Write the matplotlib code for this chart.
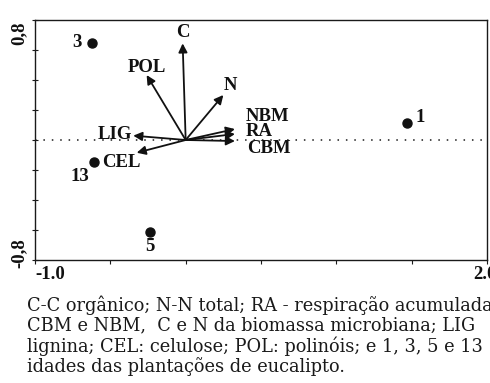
import matplotlib
matplotlib.use("Agg")
import matplotlib.pyplot as plt

# Sites (plantation ages) scores
site_labels = ["1", "3", "5", "13"]
site_x = [1.467, -0.622, -0.239, -0.611]
site_y = [0.111, 0.649, -0.611, -0.149]

# Variable vectors (arrow tips)
var_labels = ["C", "POL", "N", "LIG", "CEL", "NBM", "RA", "CBM"]
var_x = [-0.02, -0.259, 0.25, -0.348, -0.325, 0.327, 0.327, 0.327]
var_y = [0.644, 0.433, 0.30, 0.029, -0.085, 0.073, 0.040, -0.007]

xlim = (-1.0, 2.0)
ylim = (-0.8, 0.8)
x_ticks = [-1.0, -0.5, 0.0, 0.5, 1.0, 1.5, 2.0]
y_ticks = [-0.8, -0.6, -0.4, -0.2, 0.0, 0.2, 0.4, 0.6, 0.8]

caption_lines = [
    "C-C orgânico; N-N total; RA - respiração acumulada",
    "CBM e NBM,  C e N da biomassa microbiana; LIG",
    "lignina; CEL: celulose; POL: polinóis; e 1, 3, 5 e 13",
    "idades das plantações de eucalipto.",
]

# label layout (pixel offsets from mark)
site_off = {"1": (13, 6, "center"), "3": (-15, 0, "center"),
            "5": (0, -15, "center"), "13": (-14, -14, "center")}
var_off = {"C": (0, 11, "center"), "POL": (0, 8, "center"), "N": (7, 10, "center"),
           "LIG": (-1, 1, "right"), "CEL": (4, -10, "right"),
           "NBM": (11, 13, "left"), "RA": (11, 2, "left"), "CBM": (12, -7, "left")}

W, H = 490, 383
fig = plt.figure(figsize=(W / 100, H / 100), dpi=100)
ax = fig.add_axes([35 / W, 1 - 260 / H, 452 / W, 240 / H])
ax.set_xlim(*xlim)
ax.set_ylim(*ylim)
ax.set_xticks(x_ticks)
ax.set_yticks(y_ticks)
ax.set_xticklabels([])
ax.set_yticklabels([])
ax.tick_params(axis="x", direction="out", length=3, width=0.8, colors="#1a1a1a")
ax.tick_params(axis="y", direction="inout", length=5, width=0.8, colors="#1a1a1a")
for s in ax.spines.values():
    s.set_linewidth(1.0)
    s.set_color("#1a1a1a")

ax.axhline(0, color="#1a1a1a", lw=1.1, ls=(0, (1, 4.5)), zorder=1)

bold = dict(family="Liberation Serif", weight="bold", color="#111111")
FS = 13.5

for lab, x, y in zip(var_labels, var_x, var_y):
    ax.annotate("", xy=(x, y), xytext=(0, 0),
                arrowprops=dict(arrowstyle="-|>", mutation_scale=13, lw=1.3,
                                color="#111111", shrinkA=0, shrinkB=0))
    dx, dy, ha = var_off[lab]
    ax.annotate(lab, xy=(x, y), xytext=(dx, dy), textcoords="offset pixels",
                ha=ha, va="center", fontsize=FS, **bold)

ax.plot(site_x, site_y, "o", color="#111111", ms=6.5, zorder=3)
for lab, x, y in zip(site_labels, site_x, site_y):
    dx, dy, ha = site_off[lab]
    ax.annotate(lab, xy=(x, y), xytext=(dx, dy), textcoords="offset pixels",
                ha=ha, va="center", fontsize=FS, **bold)

# axis end labels
ax.text(xlim[0], -0.025, "-1.0", transform=ax.get_xaxis_transform(),
        ha="left", va="top", fontsize=FS, **bold)
ax.text(xlim[1] - 0.015, -0.025, "2.0", transform=ax.get_xaxis_transform(),
        ha="center", va="top", fontsize=FS, **bold)
ax.text(-0.035, ylim[1] - 0.01, "0,8", transform=ax.get_yaxis_transform(),
        ha="center", va="top", rotation=90, fontsize=FS, **bold)
ax.text(-0.035, ylim[0] - 0.05, "-0,8", transform=ax.get_yaxis_transform(),
        ha="center", va="bottom", rotation=90, fontsize=FS, **bold)

# caption
for i, line in enumerate(caption_lines):
    fig.text(27 / W, 1 - (305 + 20.5 * i) / H, line, ha="left", va="center",
             fontsize=12.8, family="DejaVu Serif", color="#1a1a1a")

fig.savefig("out.png", dpi=100)
